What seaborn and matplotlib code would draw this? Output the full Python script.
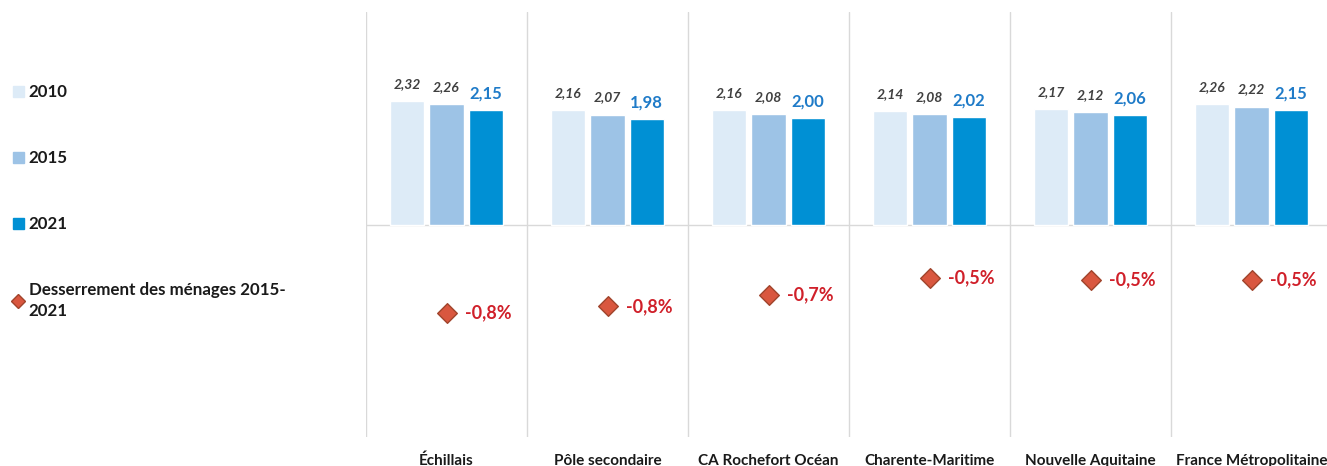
import pandas as pd
import matplotlib.pyplot as plt
import seaborn as sns
import numpy as np
from matplotlib.patches import Patch
from matplotlib.lines import Line2D

territoires = ['Échillais', 'Pôle secondaire', 'CA Rochefort Océan',
               'Charente-Maritime', 'Nouvelle Aquitaine', 'France Métropolitaine']
annees = ['2010', '2015', '2021']
taille_2010 = [2.32, 2.16, 2.16, 2.14, 2.17, 2.26]
taille_2015 = [2.26, 2.07, 2.08, 2.08, 2.12, 2.22]
taille_2021 = [2.15, 1.98, 2.00, 2.02, 2.06, 2.15]
desserrement = [-0.83, -0.77, -0.66, -0.50, -0.52, -0.52]
desserrement_txt = ['-0,8%', '-0,8%', '-0,7%', '-0,5%', '-0,5%', '-0,5%']

couleurs = ['#DDEBF7', '#9DC3E6', '#0090D4']
rouge = '#D9573F'

df = pd.DataFrame({
    'territoire': territoires * 3,
    'annee': [a for a in annees for _ in territoires],
    'valeur': taille_2010 + taille_2015 + taille_2021,
})

sns.set_style('white')
plt.rcParams['font.family'] = ['Lato', 'DejaVu Sans']

fig = plt.figure(figsize=(13.27, 4.66), dpi=100)
ax = fig.add_axes([366 / 1327, 29 / 466, 966 / 1327, 425 / 466])

sns.barplot(data=df, x='territoire', y='valeur', hue='annee', palette=couleurs,
            saturation=1, width=0.73, gap=0.13, legend=False, ax=ax)
ax.set_ylim(-4, 4)
ax.set_xlim(-0.5, 5.5)

# etiquettes des barres
for cont, annee in zip(ax.containers, annees):
    labs = [f'{v:.2f}'.replace('.', ',') for v in cont.datavalues]
    if annee == '2021':
        ax.bar_label(cont, labels=labs, padding=6, fontsize=12, fontweight='bold',
                     color='#1F7BC8')
    else:
        ax.bar_label(cont, labels=labs, padding=8, fontsize=10, fontweight='bold',
                     fontstyle='italic', color='#404040')

for x in np.arange(-0.5, 6, 1):
    ax.axvline(x, color='#D9D9D9', lw=1, zorder=0)
ax.axhline(0, color='#D9D9D9', lw=1, zorder=0)

ax.set_xlabel('')
ax.set_ylabel('')
ax.set_yticks([])
ax.tick_params(axis='x', length=0, pad=12)
for lab in ax.get_xticklabels():
    lab.set_fontweight('bold')
    lab.set_fontsize(11)
    lab.set_color('#1a1a1a')
sns.despine(ax=ax, left=True, bottom=True)

ax2 = ax.twinx()
sns.stripplot(x=territoires, y=desserrement, jitter=False, marker='D', size=10,
              color=rouge, edgecolor='#A0442C', linewidth=1, ax=ax2)
ax2.set_ylim(-2, 2)
ax2.set_xlim(-0.5, 5.5)
ax2.set_yticks([])
sns.despine(ax=ax2, left=True, bottom=True, right=True)
for i, (v, t) in enumerate(zip(desserrement, desserrement_txt)):
    ax2.annotate(t, (i, v), xytext=(13, 0), textcoords='offset points',
                 va='center', ha='left', fontsize=13, fontweight='bold', color='#D0202A')

handles = [Patch(color=c) for c in couleurs]
handles.append(Line2D([], [], marker='D', ls='none', color=rouge,
                      markeredgecolor='#A0442C', markersize=7))
leg = fig.legend(handles, annees + ['Desserrement des ménages 2015-\n2021'],
                 loc='upper left', bbox_to_anchor=(-0.002, 0.852), frameon=False,
                 handlelength=0.65, handleheight=0.65, handletextpad=0.3,
                 labelspacing=2.95, prop={'weight': 'bold', 'size': 12.2})
for t in leg.get_texts():
    t.set_color('#1a1a1a')
    t.set_linespacing(1.35)

fig.savefig('out.png', dpi=100)
